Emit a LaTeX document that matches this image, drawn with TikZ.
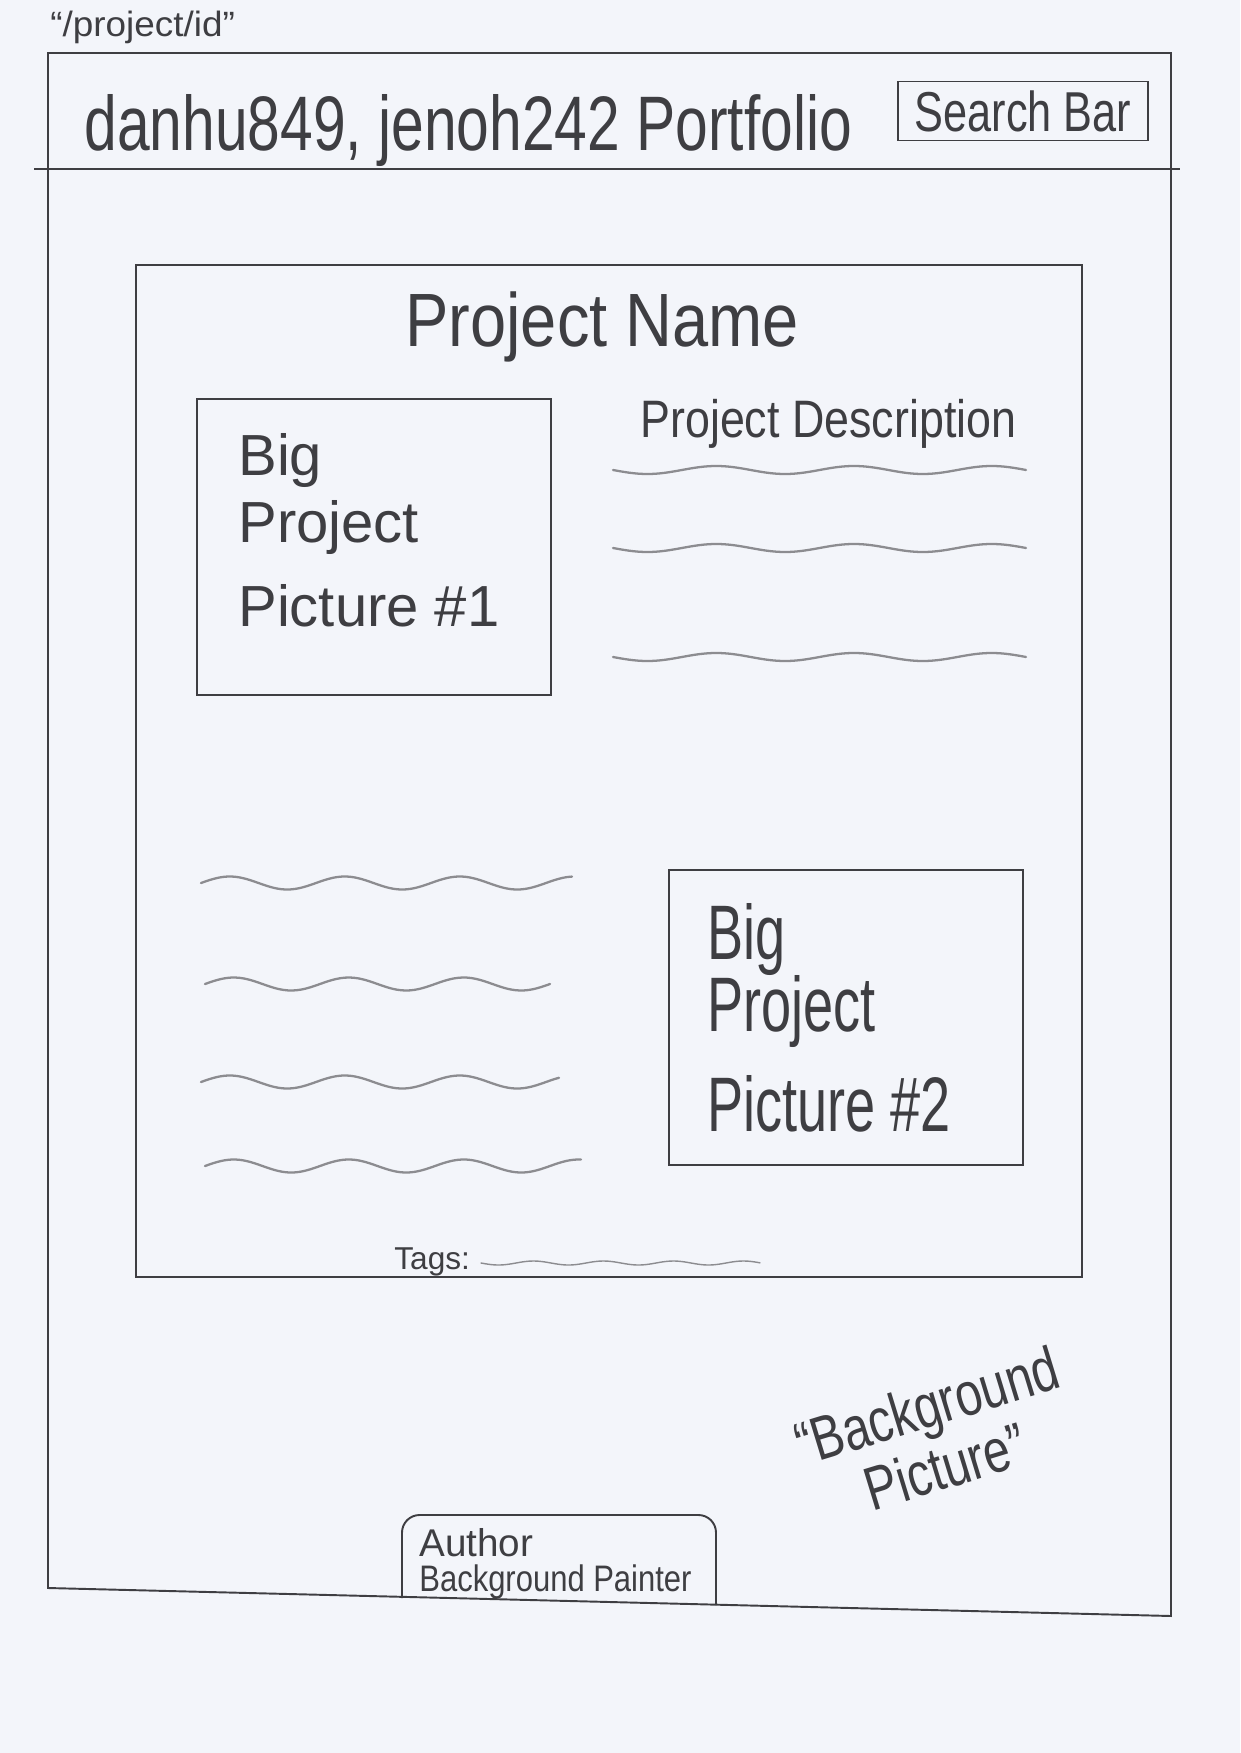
\documentclass[tikz,border=0pt]{standalone}
\usepackage{fontspec}
\usepackage{graphicx}
\setmainfont{Liberation Sans}

\definecolor{paper}{RGB}{243,245,250}
\definecolor{pencil}{RGB}{62,62,66}
\definecolor{smudge}{RGB}{140,140,144}

\newcommand{\hw}[2]{\scalebox{#1}[1]{#2}}
\newcommand{\fs}[1]{\fontsize{#1}{#1}\selectfont}

\tikzset{
  frame/.style={draw=pencil, line width=1.1pt},
  label/.style={text=pencil, inner sep=0pt, anchor=base west},
  squiggle/.style={smudge, line width=1.3pt, line cap=round},
}

\begin{document}
\begin{tikzpicture}[x=0.02cm, y=-0.02cm]
    % Paper
    \fill[paper] (0,0) rectangle (1240,1753);
    \useasboundingbox (0,0) rectangle (1240,1753);

    % Route
    \node[label] (route) at (50,37) {\fs{20pt}\hw{1.05}{“/project/id”}};

    % Page frame and header
    \draw[frame] (48,53) -- (1171,53) -- (1171,1616) -- (48,1588) -- cycle;
    \draw[frame] (34,169) -- (1180,169);
    \node[label] (title) at (84,151) {\fs{44pt}\hw{0.76}{danhu849, jenoh242 Portfolio}};
    \node[frame, text=pencil, inner sep=0pt, minimum width=5cm, minimum height=1.18cm]
        (search) at (1023,111) {\fs{32pt}\hw{0.77}{Search Bar}};

    % Project card
    \draw[frame] (136,265) rectangle (1082,1277);
    \node[label] (name) at (405,347) {\fs{43pt}\hw{0.86}{Project Name}};

    % Picture #1 and description
    \draw[frame] (197,399) rectangle (551,695);
    \foreach \y/\t in {475/Big, 542/Project, 626/Picture \#1}
        \node[label] (pic1-\y) at (238,\y) {\fs{33pt}\t};
    \node[label] (desc) at (640,438) {\fs{30pt}\hw{0.85}{Project Description}};
    \foreach \y in {470,548,657}
        \draw[squiggle] plot[domain=613:1026, samples=80, smooth]
            (\x, {\y + 4*sin((\x-613)/137.7*360)});

    % Text lines and picture #2
    \foreach \a/\b/\y in {201/572/883, 205/550/984, 201/559/1082, 205/581/1166}
        \draw[squiggle] plot[domain=\a:\b, samples=80, smooth]
            (\x, {\y - 6.5*sin((\x-\a)/115*360)});
    \draw[frame] (669,870) rectangle (1023,1165);
    \foreach \y/\t in {959/Big, 1031/Project, 1131/Picture \#2}
        \node[label] (pic2-\y) at (707,\y) {\fs{44pt}\hw{0.7}{\t}};

    % Tags
    \node[label] (tags) at (394,1269) {\fs{18pt}Tags:};
    \draw[squiggle, line width=0.8pt] plot[domain=481:760, samples=60, smooth]
        (\x, {1263 + 2*sin((\x-481)/70*360)});

    % Background note
    \node[text=pencil, inner sep=0pt, rotate=17, align=center,
          font={\fontsize{35pt}{36pt}\selectfont}]
        (bgnote) at (936,1436) {\hw{0.78}{“Background}\\\hw{0.78}{Picture”}};

    % Footer tab
    \draw[frame, rounded corners=10pt] (402,1598) -- (402,1515) -- (716,1515) -- (716,1605);
    \node[label] (author) at (419,1556) {\fs{22pt}Author};
    \node[label] (painter) at (419,1591) {\fs{21pt}\hw{0.84}{Background Painter}};
\end{tikzpicture}
\end{document}
